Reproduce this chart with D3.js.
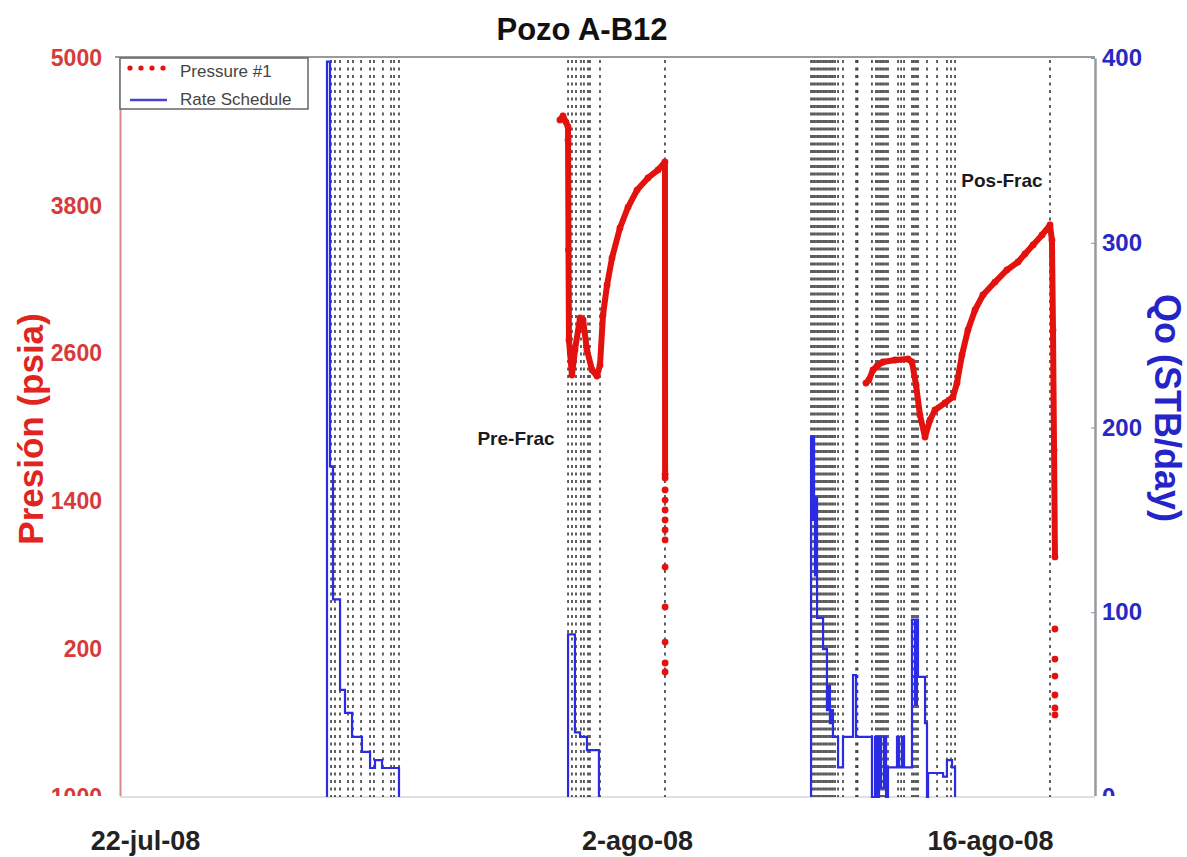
<!DOCTYPE html>
<html>
<head>
<meta charset="utf-8">
<script src="https://cdn.jsdelivr.net/npm/d3@7"></script>
<style>
  html, body { margin: 0; padding: 0; background: #ffffff; }
  svg { display: block; font-family: Arial, "Liberation Sans", sans-serif; }
</style>
</head>
<body>
<svg id="chart" width="1187" height="857"></svg>
<script>
// ---------- DATA (time in hours from the left edge of the plot) ----------
const chartTitle = "Pozo A-B12";
const xTickHours = [16.7, 344.7, 580];
const xTickLabels = ["22-jul-08", "2-ago-08", "16-ago-08"];
const pressureTicks = [-1000, 200, 1400, 2600, 3800, 5000];
const rateTicks = [0, 100, 200, 300, 400];

// flow-period boundaries (grey dotted verticals)
const flowBoundaries = [
  140.7, 143.3, 146.7, 152, 155.3, 160.7, 166.7, 169.3, 175.3, 180.7, 182.7, 186,
  298.7, 301.3, 304, 307.3, 309.3, 312, 313.3, 320, 363.3,
  460.7, 462, 463.3, 464.7, 466, 467.3, 468.7, 470, 471.3, 472.7, 474, 475.3, 476.7,
  478.7, 482, 490.7, 491.7, 501.3, 504, 505.3, 506.7, 508, 509.3, 510.7, 512,
  518.7, 520.7, 522.7, 528, 529.3, 530.7, 532, 538, 544.7, 551.3, 554, 556.7, 620
];

// Rate schedule (STB/day), step-after
const rateA = [[138,0],[138,398],[140,179],[142,107],[146.7,58],[150,45.5],[154.7,32.5],
  [161.3,24.4],[166.7,15.7],[170,20],[174.7,15.7],[186,0]];
const rateB = [[298.7,0],[298.7,88],[303.3,35],[306.7,32.5],[311.3,25.4],[319.3,0]];
const rateC = [[460.7,0],[460.7,195],[461.5,150],[462,195],[462.7,162],[463.3,120],[464,162],
  [464.7,97],[468.7,80],[471.3,47],[472.5,60],[473.3,40],[474,47],[475.3,32.5],[478.7,16],
  [482,32.5],[488.7,66],[490.7,32.5],[501.3,0],[503.3,32.5],[504.7,0],[506,32.5],[507.3,5],
  [509.3,32.5],[510.7,0],[512,16],[518,32.5],[519.3,16],[521.3,32.5],[522.7,16],[528,96],
  [530,50],[531.3,96],[532,65],[536.7,40],[538,0],[538.7,13],[548.7,11],[551.3,20],
  [554.7,16],[556.7,0]];

// Pressure #1 (psia): dense runs and sparse tails
const pressurePre = [[293.3,4497],[295.3,4529],[297.3,4480],[298.7,4440],[298.7,4334],
  [299,3441],[299.3,2710],[301.3,2426],[303.3,2629],[306.7,2889],[308.7,2873],[311.3,2629],
  [314.7,2467],[318,2418],[320,2507],[322,2913],[324.7,3157],[328,3376],[333.3,3620],
  [338.7,3790],[344.7,3928],[352,4026],[358.7,4091],[363.3,4156],[363.4,1620]];
const pressurePreTail = [[363.4,1590],[363.4,1493],[363.4,1411],[363.4,1330],[363.4,1249],
  [363.4,1168],[363.4,1087],[363.4,867],[363.4,543],[363.4,258],[363.4,88],[363.4,15]];
const pressurePost = [[497.3,2361],[499.3,2386],[502,2467],[504.7,2499],[508.7,2532],
  [516.7,2548],[525.3,2556],[528,2532],[530.7,2345],[533.3,2101],[536.7,1923],[540,2061],
  [543.3,2142],[550,2199],[555.3,2248],[558,2361],[561.3,2589],[565.3,2792],[570,2954],
  [575.3,3076],[583.3,3181],[591.3,3279],[598.7,3344],[603.3,3409],[608.7,3482],
  [614.7,3563],[620,3644],[621.3,3522],[622,2792],[622.7,1817],[623.3,949]];
const pressurePostTail = [[623.3,364],[623.3,120],[623.3,-18],[623.3,-172],[623.3,-277],[623.3,-334]];

const annotations = [
  {text: "Pre-Frac", t: 264, p: 1860},
  {text: "Pos-Frac", t: 588, p: 3950}
];

// ---------- DRAWING ----------
const svg = d3.select("#chart");
const L = 120, R = 1095, T = 58, B = 797;
const x = d3.scaleLinear().domain([0, 650]).range([L, R]);
const yP = d3.scaleLinear().domain([-1000, 5000]).range([B, T]);
const yQ = d3.scaleLinear().domain([0, 400]).range([B, T]);

const RED = "#e3120f", RED_TXT = "#d63a3a", BLUE = "#2b2be6", BLUE_TXT = "#2828c4";

svg.append("defs").append("clipPath").attr("id", "lblclip")
  .append("rect").attr("x", -1500).attr("y", 0).attr("width", 3000).attr("height", 796);

// frame lines
svg.append("line").attr("x1", L - 5).attr("x2", R).attr("y1", T - 1).attr("y2", T - 1)
  .attr("stroke", "#9a9a9a").attr("stroke-width", 2);
svg.append("line").attr("x1", L).attr("x2", R).attr("y1", B).attr("y2", B)
  .attr("stroke", "#d6d6d6").attr("stroke-width", 1.5);

// dotted flow boundaries
svg.append("g").selectAll("line").data(flowBoundaries).join("line")
  .attr("x1", d => x(d)).attr("x2", d => x(d))
  .attr("y1", T + 2).attr("y2", B)
  .attr("stroke", "#3a3a3a").attr("stroke-width", 1.6)
  .attr("stroke-dasharray", "3,4.5");

// rate schedule
const rateLine = d3.line().x(d => x(d[0])).y(d => yQ(d[1])).curve(d3.curveStepAfter);
svg.append("g").selectAll("path").data([rateA, rateB, rateC]).join("path")
  .attr("d", rateLine).attr("fill", "none").attr("stroke", BLUE).attr("stroke-width", 2.2);

// pressure
const pLine = d3.line().x(d => x(d[0])).y(d => yP(d[1]));
const pg = svg.append("g");
pg.selectAll("path").data([pressurePre, pressurePost]).join("path")
  .attr("d", pLine).attr("fill", "none").attr("stroke", RED)
  .attr("stroke-width", 6).attr("stroke-linejoin", "round").attr("stroke-linecap", "round");
pg.selectAll("circle").data([...pressurePre, ...pressurePreTail, ...pressurePost, ...pressurePostTail]).join("circle")
  .attr("cx", d => x(d[0])).attr("cy", d => yP(d[1])).attr("r", 3.4).attr("fill", RED);

// axes
const leftAxis = svg.append("g").attr("transform", `translate(${L},0)`)
  .attr("clip-path", "url(#lblclip)")
  .call(d3.axisLeft(yP).tickValues(pressureTicks).tickSize(0).tickPadding(18).tickFormat(d3.format("d")));
leftAxis.select(".domain").attr("stroke", "#d88a8a").attr("stroke-width", 2);
leftAxis.selectAll("text").attr("fill", RED_TXT).attr("font-size", 23).attr("font-weight", "bold")
  .attr("font-family", "Arial, 'Liberation Sans', sans-serif");

const rightAxis = svg.append("g").attr("transform", `translate(${R},0)`)
  .attr("clip-path", "url(#lblclip)")
  .call(d3.axisRight(yQ).tickValues(rateTicks).tickSizeInner(-4).tickSizeOuter(0).tickPadding(7));
rightAxis.select(".domain").attr("stroke", "#9a9a9a").attr("stroke-width", 2.5);
rightAxis.selectAll(".tick line").attr("stroke", "#8888cc");
rightAxis.selectAll("text").attr("fill", BLUE_TXT).attr("font-size", 24).attr("font-weight", "bold")
  .attr("font-family", "Arial, 'Liberation Sans', sans-serif");

const bottomAxis = svg.append("g").attr("transform", `translate(0,${B})`)
  .call(d3.axisBottom(x).tickValues(xTickHours).tickSize(0).tickPadding(34)
    .tickFormat((d, i) => xTickLabels[i]));
bottomAxis.select(".domain").remove();
bottomAxis.selectAll("text").attr("fill", "#222").attr("font-size", 27).attr("font-weight", "bold")
  .attr("font-family", "Arial, 'Liberation Sans', sans-serif");

// title
svg.append("text").attr("x", 582).attr("y", 40).attr("text-anchor", "middle")
  .attr("font-size", 31).attr("font-weight", "bold").attr("fill", "#111").text(chartTitle);

// axis titles
svg.append("text").attr("transform", "translate(43,429) rotate(-90)").attr("text-anchor", "middle")
  .attr("font-size", 35).attr("font-weight", "bold").attr("fill", "#e0241e").text("Presión (psia)");
svg.append("text").attr("transform", "translate(1155,408) rotate(90)").attr("text-anchor", "middle")
  .attr("font-size", 36).attr("font-weight", "bold").attr("fill", "#2424c8").text("Qo (STB/day)");

// annotations
svg.append("g").selectAll("text").data(annotations).join("text")
  .attr("x", d => x(d.t)).attr("y", d => yP(d.p)).attr("text-anchor", "middle")
  .attr("font-size", 19).attr("font-weight", "bold").attr("fill", "#1a1a1a").text(d => d.text);

// legend
const lg = svg.append("g");
lg.append("rect").attr("x", L).attr("y", T).attr("width", 188).attr("height", 51)
  .attr("fill", "#fff").attr("stroke", "#666").attr("stroke-width", 1.5);
lg.selectAll("circle").data([0, 1, 2, 3]).join("circle")
  .attr("cx", d => 130 + d * 11).attr("cy", 68).attr("r", 2.6).attr("fill", RED);
lg.append("line").attr("x1", 130).attr("x2", 167).attr("y1", 100).attr("y2", 100)
  .attr("stroke", "#4444cc").attr("stroke-width", 2.5);
lg.append("text").attr("x", 180).attr("y", 77).attr("font-size", 17).attr("fill", "#444").text("Pressure #1");
lg.append("text").attr("x", 180).attr("y", 105).attr("font-size", 17).attr("fill", "#444").text("Rate Schedule");
</script>
</body>
</html>
